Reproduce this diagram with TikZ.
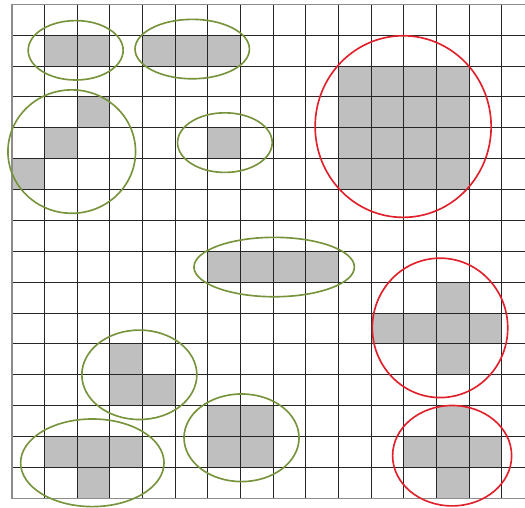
\documentclass[tikz,border=0pt]{standalone}
\usepackage{xcolor}
\usepackage{tikz}
\definecolor{leafgreen}{HTML}{77933C}
\definecolor{hotred}{HTML}{E0202A}

\begin{document}
\begin{tikzpicture}[
  x=0.9795cm, y=-0.92625cm,
  cell/.style={fill=gray!50},
  gridline/.style={draw=black!85, line width=0.9pt},
  edge/.style={draw=black!45, line width=1.1pt},
  grp/.style={draw=leafgreen, line width=1.4pt},
  hot/.style={draw=hotred, line width=1.4pt}
]
\useasboundingbox (-0.3675,-0.1393) rectangle (15.712,16.314);
\foreach \c/\r in {1/1,2/1,4/1,5/1,6/1, 2/3,1/4,0/5,6/4,
    10/2,11/2,12/2,13/2, 10/3,11/3,12/3,13/3, 10/4,11/4,12/4,13/4, 10/5,11/5,12/5,13/5,
    6/8,7/8,8/8,9/8, 13/9,11/10,12/10,13/10,14/10,13/11,
    3/11,3/12,4/12, 6/13,7/13,6/14,7/14,
    1/14,2/14,3/14,2/15, 13/13,12/14,13/14,14/14,13/15}
  \fill[cell] (\c,\r) rectangle ++(1,1);
\foreach \i in {1,...,15}
  \draw[gridline] (0,\i) -- (15.712,\i);
\foreach \i in {1,...,15}
  \draw[gridline] (\i,0) -- (\i,16);
\draw[edge] (15.712,0) -- (0,0) -- (0,16) -- (15.712,16);
\draw[grp] (1.95,1.49) ellipse [x radius=1.425cm, y radius=0.891cm];
\draw[grp] (5.52,1.45) ellipse [x radius=1.716cm, y radius=0.891cm];
\draw[grp] (1.83,4.77) ellipse [x radius=1.914cm, y radius=1.851cm];
\draw[grp] (6.52,4.48) ellipse [x radius=1.42cm, y radius=0.894cm];
\draw[grp] (8.03,8.51) ellipse [x radius=2.406cm, y radius=0.891cm];
\draw[grp] (3.9,12.0) ellipse [x radius=1.725cm, y radius=1.341cm];
\draw[grp] (2.46,14.85) ellipse [x radius=2.151cm, y radius=1.314cm];
\draw[grp] (7.03,14.04) ellipse [x radius=1.725cm, y radius=1.314cm];
\draw[hot] (11.98,3.96) ellipse [x radius=2.64cm, y radius=2.724cm];
\draw[hot] (13.11,10.48) ellipse [x radius=2.031cm, y radius=2.091cm];
\draw[hot] (13.48,14.62) ellipse [x radius=1.785cm, y radius=1.506cm];
\end{tikzpicture}
\end{document}
